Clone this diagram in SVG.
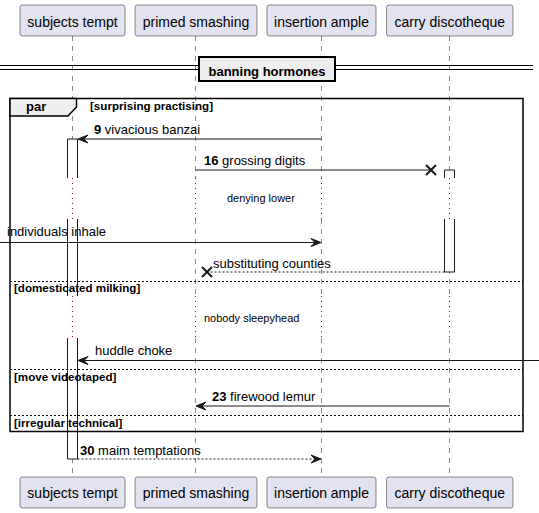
<svg xmlns="http://www.w3.org/2000/svg" width="539" height="513" viewBox="0 0 539 513">
<style>
.pbox{fill:#E2E2F0;stroke:#181818;stroke-width:0.5}
.ptxt{font-family:"Liberation Sans",Arial,sans-serif;font-size:14px;fill:#000;text-anchor:middle}
.life{stroke:#181818;stroke-width:0.5;stroke-dasharray:5,5;fill:none}
.delay{stroke:#A80036;stroke-width:1;stroke-dasharray:1,4;fill:none}
.msg{stroke:#181818;stroke-width:1;fill:none}
.dash{stroke-dasharray:2,2}
.head{fill:#181818;stroke:#181818;stroke-width:1}
.xm{stroke:#181818;stroke-width:2}
.mt{font-family:"Liberation Sans",Arial,sans-serif;font-size:13px;fill:#000}
.b{font-weight:bold}
.gt{font-family:"Liberation Sans",Arial,sans-serif;font-size:11.6px;font-weight:bold;fill:#000}
.dt{font-family:"Liberation Sans",Arial,sans-serif;font-size:11px;fill:#000}
.sep{stroke:#000;stroke-width:1;stroke-dasharray:2,2}
</style>
<rect width="539" height="513" fill="#fff"/>
<g id="lifelines">
<path class="life" d="M72.5,36V178M72.5,219V296M72.5,338V477"/>
<path class="life" d="M195.5,36V178M195.5,219V296M195.5,338V477"/>
<path class="life" d="M321.5,36V178M321.5,219V296M321.5,338V477"/>
<path class="life" d="M449.5,36V178M449.5,219V296M449.5,338V477"/>
<path class="delay" d="M72.5,178V219M195.5,178V219M321.5,178V219M449.5,178V219"/>
<path class="delay" d="M72.5,296V338M195.5,296V338M321.5,296V338M449.5,296V338"/>
</g>
<g id="activations">
<rect x="67.5" y="139" width="10" height="39" fill="#fff" stroke="none"/>
<rect x="67.5" y="219" width="10" height="77" fill="#fff" stroke="none"/>
<rect x="67.5" y="338" width="10" height="121" fill="#fff" stroke="none"/>
<path class="msg" d="M67.5,178V139H77.5V178M67.5,219V296M77.5,219V296M67.5,338V459H77.5V338"/>
<rect x="444.5" y="170" width="10" height="8" fill="#fff" stroke="none"/>
<rect x="444.5" y="219" width="10" height="53" fill="#fff" stroke="none"/>
<path class="msg" d="M444.5,178V170H454.5V178M444.5,219V272H454.5V219"/>
</g>
<g id="divider">
<line x1="0" y1="65.5" x2="533" y2="65.5" stroke="#000" stroke-width="1"/>
<line x1="0" y1="69.5" x2="533" y2="69.5" stroke="#000" stroke-width="1"/>
<rect x="199" y="57" width="136" height="24" fill="#EEEEEE" stroke="#000" stroke-width="2"/>
<text x="267" y="76" class="mt b" text-anchor="middle">banning hormones</text>
</g>
<g id="par">
<rect x="10" y="98.5" width="513" height="333" fill="none" stroke="#000" stroke-width="1.5"/>
<path d="M10,98.5H76.5V107L68,116H10Z" fill="#EEEEEE" stroke="#000" stroke-width="1.5"/>
<text x="26" y="111" class="mt b">par</text>
<text x="90" y="110" class="gt">[surprising practising]</text>
<line class="sep" x1="10" y1="281.5" x2="523" y2="281.5"/>
<text x="14" y="292" class="gt">[domesticated milking]</text>
<line class="sep" x1="10" y1="369.5" x2="523" y2="369.5"/>
<text x="14" y="381" class="gt">[move videotaped]</text>
<line class="sep" x1="10" y1="415.5" x2="523" y2="415.5"/>
<text x="14" y="427" class="gt">[irregular technical]</text>
</g>
<g id="connectors">
<line class="msg" x1="321.5" y1="139" x2="79" y2="139"/>
<polygon class="head" points="78,139 88,135 84,139 88,143"/>
<text x="94" y="134" class="mt"><tspan class="b">9</tspan> vivacious banzai</text>

<line class="msg" x1="195.5" y1="170" x2="431" y2="170"/>
<path class="xm" d="M426,165L436,175M426,175L436,165"/>
<text x="204" y="165" class="mt"><tspan class="b">16</tspan> grossing digits</text>

<text x="227" y="202" class="dt">denying lower</text>

<line class="msg" x1="0" y1="242.5" x2="320" y2="242.5"/>
<polygon class="head" points="321,242.5 311,238.5 315,242.5 311,246.5"/>
<text x="7" y="236" class="mt">individuals inhale</text>

<line class="msg dash" x1="444.5" y1="272" x2="207" y2="272"/>
<path class="xm" d="M202,267L212,277M202,277L212,267"/>
<text x="213" y="268" class="mt">substituting counties</text>

<text x="204" y="322" class="dt">nobody sleepyhead</text>

<line class="msg" x1="539" y1="360.5" x2="79" y2="360.5"/>
<polygon class="head" points="78,360.5 88,356.5 84,360.5 88,364.5"/>
<text x="95" y="355" class="mt">huddle choke</text>

<line class="msg" x1="449.5" y1="406" x2="197" y2="406"/>
<polygon class="head" points="196,406 206,402 202,406 206,410"/>
<text x="212" y="401" class="mt"><tspan class="b">23</tspan> firewood lemur</text>

<line class="msg dash" x1="77.5" y1="459" x2="320" y2="459"/>
<polygon class="head" points="321,459 311,455 315,459 311,463"/>
<text x="80" y="455" class="mt"><tspan class="b">30</tspan> maim temptations</text>
</g>
<g id="p-subjects-tempt">
<rect class="pbox" x="20" y="5" width="105" height="31" rx="2.5"/>
<text class="ptxt" x="72.5" y="26.5">subjects tempt</text>
<rect class="pbox" x="20" y="477" width="105" height="31" rx="2.5"/>
<text class="ptxt" x="72.5" y="498">subjects tempt</text>
</g>
<g id="p-primed-smashing">
<rect class="pbox" x="135" y="5" width="122" height="31" rx="2.5"/>
<text class="ptxt" x="196" y="26.5">primed smashing</text>
<rect class="pbox" x="135" y="477" width="122" height="31" rx="2.5"/>
<text class="ptxt" x="196" y="498">primed smashing</text>
</g>
<g id="p-insertion-ample">
<rect class="pbox" x="267" y="5" width="109" height="31" rx="2.5"/>
<text class="ptxt" x="321.5" y="26.5">insertion ample</text>
<rect class="pbox" x="267" y="477" width="109" height="31" rx="2.5"/>
<text class="ptxt" x="321.5" y="498">insertion ample</text>
</g>
<g id="p-carry-discotheque">
<rect class="pbox" x="386.5" y="5" width="126.5" height="31" rx="2.5"/>
<text class="ptxt" x="449.75" y="26.5">carry discotheque</text>
<rect class="pbox" x="386.5" y="477" width="126.5" height="31" rx="2.5"/>
<text class="ptxt" x="449.75" y="498">carry discotheque</text>
</g>
</svg>
